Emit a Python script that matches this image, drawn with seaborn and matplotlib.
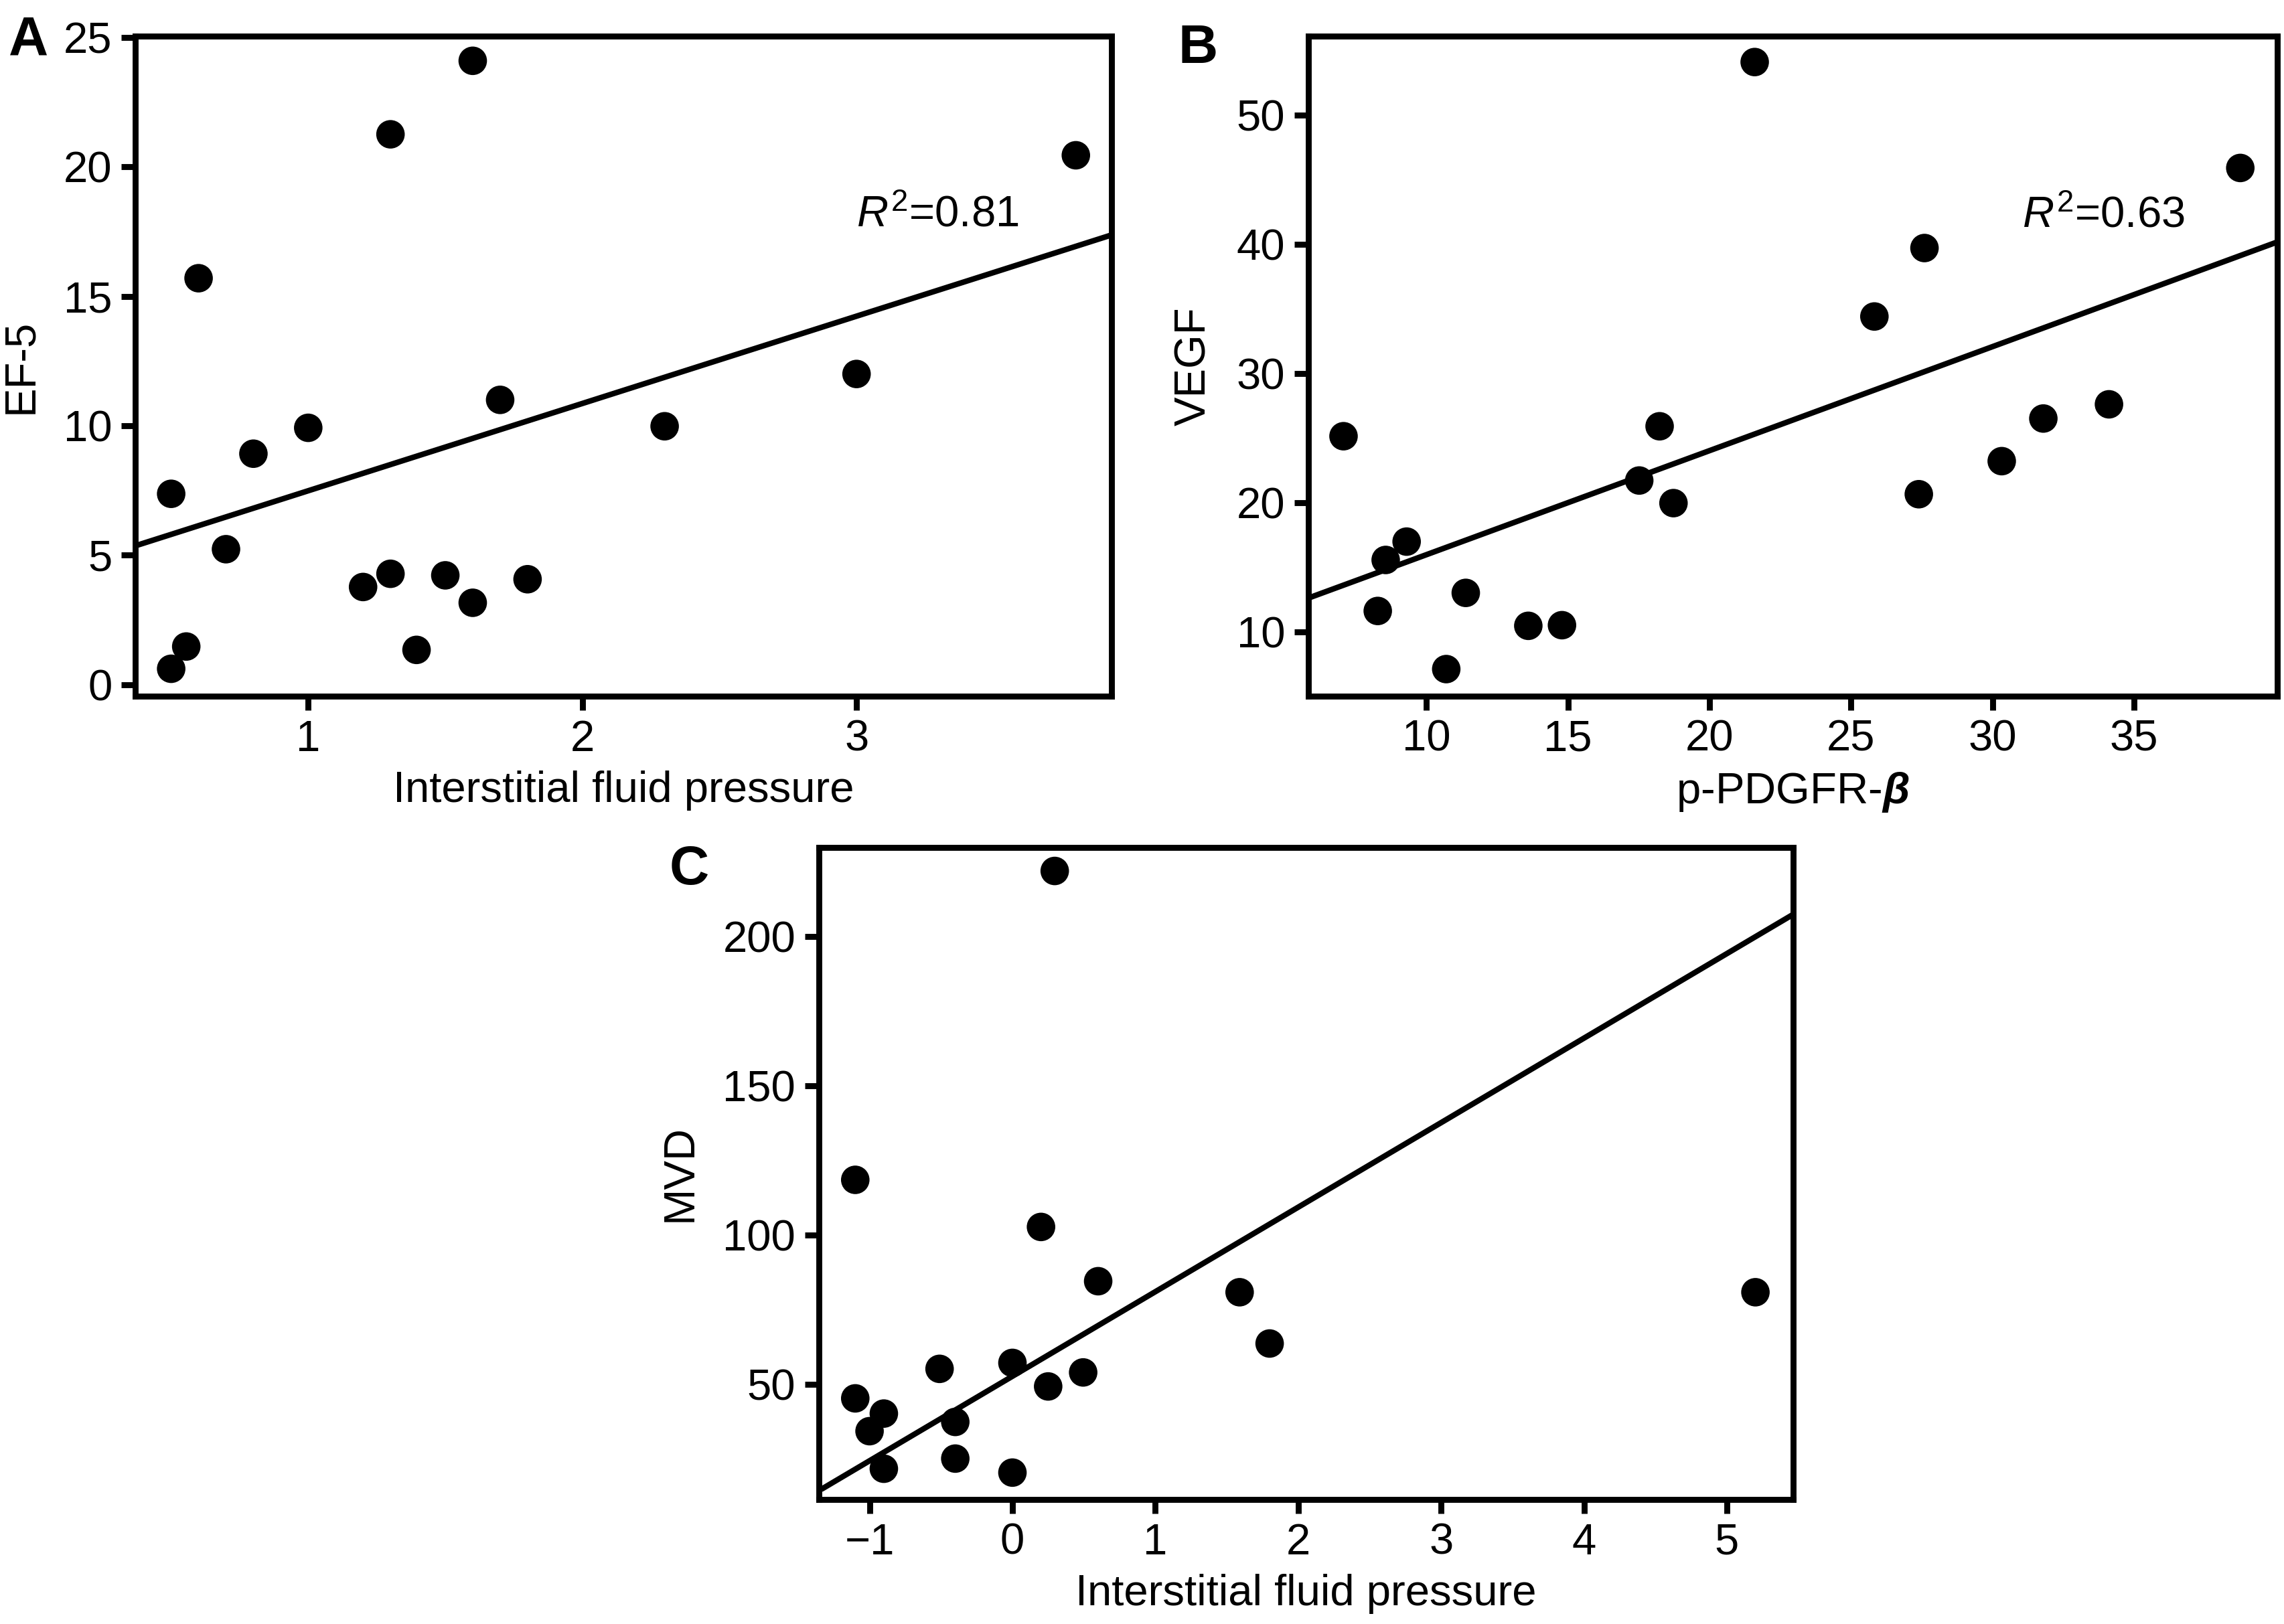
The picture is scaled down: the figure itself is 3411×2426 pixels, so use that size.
"""
Three scatter panels (A, B, C) with fitted lines, rebuilt with seaborn.
"""
import matplotlib
matplotlib.use("Agg")
import matplotlib.pyplot as plt
import seaborn as sns

# Panel A: interstitial fluid pressure vs EF-5
a_x = [0.50, 0.50, 0.555, 0.60, 0.70, 0.80, 1.00, 1.20, 1.30, 1.30,
       1.395, 1.50, 1.60, 1.60, 1.70, 1.80, 2.30, 3.00, 3.80]
a_y = [7.37, 0.61, 1.47, 15.7, 5.23, 8.92, 9.92, 3.77, 21.26, 4.28,
       1.34, 4.22, 24.1, 3.16, 11.0, 4.07, 9.98, 12.0, 20.45]
a_line_x = [0.369, 3.93]
a_line_y = [5.36, 17.37]
a_xticks = [1, 2, 3]
a_yticks = [0, 5, 10, 15, 20, 25]

# Panel B: p-PDGFR-beta vs VEGF
b_x = [7.07, 8.56, 8.28, 9.30, 10.70, 11.39, 13.6, 14.79, 17.52, 18.24,
       18.73, 21.6, 25.83, 27.6, 27.4, 30.33, 31.8, 34.12, 38.76]
b_y = [25.13, 15.55, 11.6, 16.97, 7.1, 13.0, 10.45, 10.5, 21.7, 25.9,
       19.95, 54.1, 34.4, 39.7, 20.64, 23.2, 26.5, 27.6, 45.9]
b_line_x = [5.83, 40.07]
b_line_y = [12.6, 40.17]
b_xticks = [10, 15, 20, 25, 30, 35]
b_yticks = [10, 20, 30, 40, 50]

# Panel C: interstitial fluid pressure vs MVD
c_x = [0.296, -1.10, 0.20, 0.60, 1.59, 1.80, 5.20, -0.51, 0.00, 0.495,
       0.25, -1.10, -0.90, -0.40, -1.00, -0.40, -0.90, 0.00]
c_y = [222.1, 118.5, 102.7, 84.5, 80.8, 63.6, 80.8, 55.1, 57.1, 53.9,
       49.2, 45.2, 40.1, 37.3, 34.2, 25.0, 21.6, 20.3]
c_line_x = [-1.334, 5.463]
c_line_y = [14.8, 207.5]
c_xticks = [-1, 0, 1, 2, 3, 4, 5]
c_yticks = [50, 100, 150, 200]

sns.set_style("ticks")
plt.rcParams["font.family"] = ["Liberation Sans", "DejaVu Sans"]
plt.rcParams["mathtext.fontset"] = "custom"
plt.rcParams["mathtext.rm"] = "Liberation Sans"
plt.rcParams["mathtext.it"] = "Liberation Sans:italic"
plt.rcParams["mathtext.bf"] = "Liberation Sans:bold"
plt.rcParams["mathtext.bfit"] = "Liberation Sans:italic:bold"
for key in ["text.color", "axes.labelcolor", "xtick.color", "ytick.color", "axes.edgecolor"]:
    plt.rcParams[key] = "black"

FS = 23.5
LW = 3.2


def panel(fig, rect, x, y, lx, ly, xlim, ylim, xticks, yticks, xlabel, ylabel):
    ax = fig.add_axes(rect)
    sns.scatterplot(x=x, y=y, ax=ax, color="black", edgecolor="none", s=235, zorder=3)
    sns.lineplot(x=lx, y=ly, ax=ax, color="black", linewidth=3.0, zorder=2)
    ax.set_xlim(*xlim)
    ax.set_ylim(*ylim)
    ax.set_xticks(xticks)
    ax.set_yticks(yticks)
    ax.set_xlabel(xlabel, fontsize=FS, labelpad=6)
    ax.set_ylabel(ylabel, fontsize=FS, labelpad=12)
    ax.tick_params(labelsize=FS, width=LW, length=7.5, direction="out",
                   color="black", labelcolor="black", pad=5)
    for s in ax.spines.values():
        s.set_linewidth(LW)
        s.set_color("black")
    return ax


fig = plt.figure(figsize=(17.06, 12.13), dpi=200)

ax_a = panel(fig, [0.0592, 0.5713, 0.4273, 0.4064], a_x, a_y, a_line_x, a_line_y,
             (0.369, 3.93), (-0.45, 25.05), a_xticks, a_yticks,
             "Interstitial fluid pressure", "EF-5")
ax_a.text(3.0, 17.7, r"$R^2$=0.81", fontsize=FS, ha="left", va="baseline")

ax_b = panel(fig, [0.5727, 0.5713, 0.4241, 0.4064], b_x, b_y, b_line_x, b_line_y,
             (5.83, 40.07), (5.0, 56.1), b_xticks, b_yticks,
             r"p-PDGFR-$\boldsymbol{\beta}$", "VEGF")
ax_b.text(31.05, 41.3, r"$R^2$=0.63", fontsize=FS, ha="left", va="baseline")

ax_c = panel(fig, [0.3584, 0.0767, 0.4264, 0.4015], c_x, c_y, c_line_x, c_line_y,
             (-1.355, 5.463), (11.3, 230.0), c_xticks, c_yticks,
             "Interstitial fluid pressure", "MVD")

fig.text(13 / 3412, 1 - 22 / 2426, "A", fontsize=29.5, fontweight="bold", ha="left", va="top")
fig.text(1760 / 3412, 1 - 35 / 2426, "B", fontsize=29.5, fontweight="bold", ha="left", va="top")
fig.text(1000 / 3412, 1 - 1262 / 2426, "C", fontsize=29.5, fontweight="bold", ha="left", va="top")

fig.savefig("out.png", dpi=200, facecolor="white")
